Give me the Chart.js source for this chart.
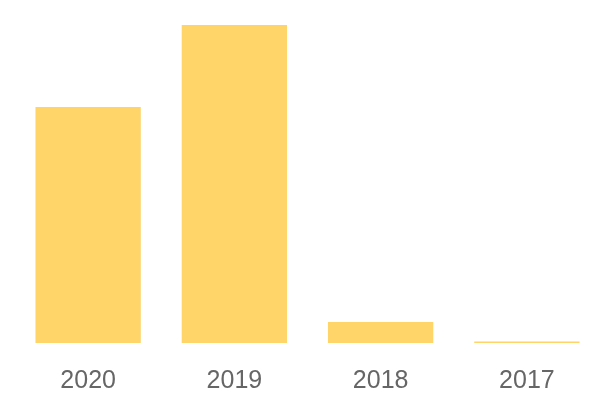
<!DOCTYPE html>
<html>
<head>
<meta charset="utf-8">
<script src="https://cdn.jsdelivr.net/npm/chart.js@4/dist/chart.umd.min.js"></script>
<style>
  html, body { margin: 0; padding: 0; background: #fff; }
  canvas { display: block; }
</style>
</head>
<body>
<canvas id="chart" width="600" height="400"></canvas>
<script>
// years and values
var years = ["2020", "2019", "2018", "2017"];
var values = [236, 318, 21, 1.5];

var ctx = document.getElementById("chart");

var barChart = new Chart(ctx, {
      type: 'bar',
      data: {
            labels: years,
            datasets: [{
                  data: values,
                  backgroundColor: "rgb(255, 213, 106)",
                  borderWidth: 0,
                  categoryPercentage: 0.8,
                  barPercentage: 0.9
            }]
      },
      options: {
            responsive: false,
            animation: false,
            layout: { padding: { left: 15, right: 0, top: 25, bottom: 0 } },
            plugins: { legend: { display: false }, tooltip: { enabled: false } },
            scales: {
                  x: {
                        grid: { display: false, drawTicks: false },
                        border: { display: false },
                        afterFit: function(axis){
                              axis.height = 57;
                        },
                        ticks: {
                              color: "#666",
                              padding: 23,
                              maxRotation: 0,
                              font: { family: "'Liberation Sans', Arial, sans-serif", size: 25 }
                        }
                  },
                  y: {
                        display: false,
                        min: 0,
                        max: 318
                  }
            }
      }
});
</script>
</body>
</html>
